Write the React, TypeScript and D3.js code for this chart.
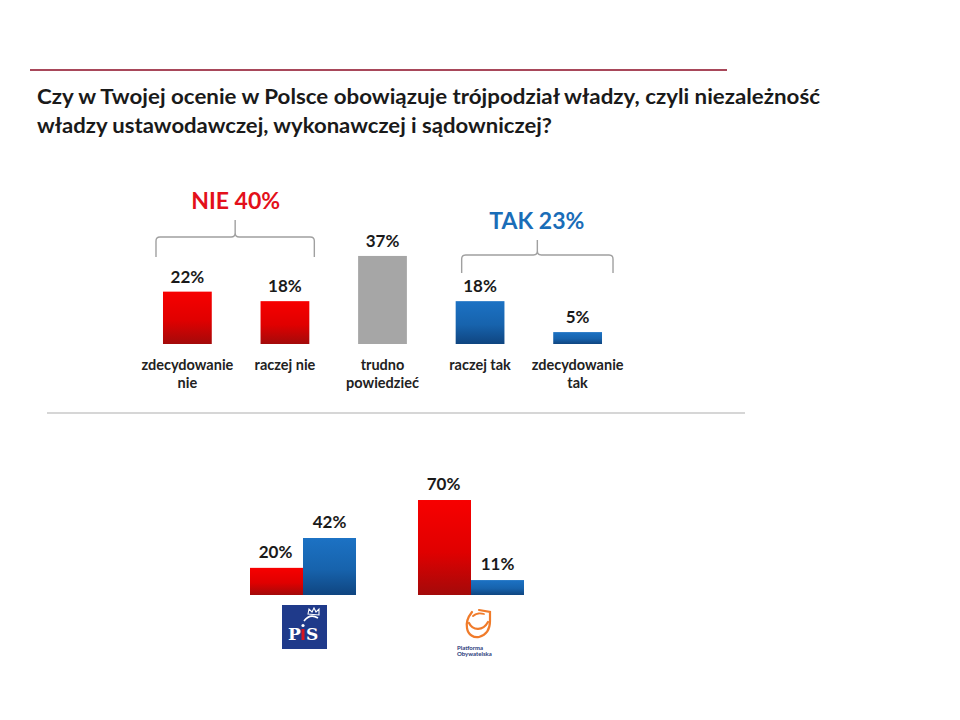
import React from "react";
import * as d3 from "d3";

const TITLE_LINES = [
  "Czy w Twojej ocenie w Polsce obowiązuje trójpodział władzy, czyli niezależność",
  "władzy ustawodawczej, wykonawczej i sądowniczej?",
];

const categories = ["zdecydowanie nie", "raczej nie", "trudno powiedzieć", "raczej tak", "zdecydowanie tak"];
const categoryLines = [["zdecydowanie", "nie"], ["raczej nie"], ["trudno", "powiedzieć"], ["raczej tak"], ["zdecydowanie", "tak"]];
const values = [22, 18, 37, 18, 5];
const groupsOf = ["nie", "nie", "neutral", "tak", "tak"];

const summaryLabels = ["NIE 40%", "TAK 23%"];

const parties = ["PiS", "PO"];
const seriesKeys = ["nie", "tak"];
const nieByParty = [20, 70];
const takByParty = [42, 11];

const RED = "#e3101a";
const BLUE = "#1a6db8";
const GRAY_BAR = "#a6a6a6";

function brace(x0: number, x1: number, tipY: number, midY: number, endY: number) {
  const xm = (x0 + x1) / 2;
  const r = 4;
  return [
    `M${x0},${endY}`,
    `L${x0},${midY + r}`,
    `Q${x0},${midY} ${x0 + r},${midY}`,
    `L${xm - r},${midY}`,
    `Q${xm},${midY} ${xm},${midY - r}`,
    `L${xm},${tipY}`,
    `M${xm},${midY - r}`,
    `Q${xm},${midY} ${xm + r},${midY}`,
    `L${x1 - r},${midY}`,
    `Q${x1},${midY} ${x1},${midY + r}`,
    `L${x1},${endY}`,
  ].join(" ");
}

export default function App() {
  const W = 960;
  const H = 720;
  const font = "Lato, 'Open Sans', 'DejaVu Sans', sans-serif";

  // top chart scales
  const x = d3.scaleBand<number>().domain(d3.range(categories.length)).range([138.6, 626.4]).paddingInner(0.5).paddingOuter(0.25);
  const base1 = 344;
  const y = d3.scaleLinear().domain([0, 100]).range([base1, base1 - 238]);

  // bottom chart scales
  const xg = d3.scaleBand<string>().domain(parties).range([250, 524]).paddingInner(0.369).paddingOuter(0);
  const xs = d3.scaleBand<string>().domain(seriesKeys).range([0, xg.bandwidth()]).padding(0);
  const base2 = 595;
  const y2 = d3.scaleLinear().domain([0, 100]).range([base2, base2 - 135.7]);

  const fillFor = (g: string) => (g === "nie" ? "url(#gradRed)" : g === "tak" ? "url(#gradBlue)" : GRAY_BAR);

  const xNie0 = x(0)!;
  const xNie1 = x(1)! + x.bandwidth();
  const xTak0 = x(3)!;
  const xTak1 = x(4)! + x.bandwidth();

  return (
    <svg width={W} height={H} style={{ display: "block", position: "absolute", left: 0, top: 0, background: "#fff" }} fontFamily={font}>
      <defs>
        <linearGradient id="gradRed" x1="0" y1="0" x2="0" y2="1">
          <stop offset="0" stopColor="#f70000" />
          <stop offset="0.55" stopColor="#e00000" />
          <stop offset="1" stopColor="#a30a0a" />
        </linearGradient>
        <linearGradient id="gradBlue" x1="0" y1="0" x2="0" y2="1">
          <stop offset="0" stopColor="#1c72c4" />
          <stop offset="0.55" stopColor="#1763ad" />
          <stop offset="1" stopColor="#0f4580" />
        </linearGradient>
      </defs>
      <rect x={0} y={0} width={W} height={H} fill="#fff" />

      {/* top rule */}
      <line x1={30} x2={727} y1={70} y2={70} stroke="#a8485a" strokeWidth={2} />

      {/* title */}
      {TITLE_LINES.map((t, i) => (
        <text key={i} x={37} y={104 + i * 29} fontSize={21} fontWeight={700} fill="#1a1a1a"
          textLength={i === 0 ? 783 : 515} lengthAdjust="spacingAndGlyphs">
          {t}
        </text>
      ))}

      {/* summary labels */}
      <text x={(xNie0 + xNie1) / 2 - 0.5} y={209} textAnchor="middle" fontSize={23} fontWeight={700} fill={RED}>{summaryLabels[0]}</text>
      <text x={(xTak0 + xTak1) / 2 + 8} y={229} textAnchor="middle" fontSize={23} fontWeight={700} fill={BLUE}>{summaryLabels[1]}</text>

      {/* braces */}
      <path d={brace(xNie0 - 7, xNie1 + 5, 220, 237, 257)} fill="none" stroke="#a0a0a0" strokeWidth={1.4} />
      <path d={brace(xTak0 + 6, xTak1 + 11, 240, 255, 273)} fill="none" stroke="#a0a0a0" strokeWidth={1.4} />

      {/* top bars */}
      {values.map((v, i) => {
        const bx = x(i)!;
        const cx = bx + x.bandwidth() / 2;
        return (
          <g key={categories[i]}>
            <rect x={bx} y={y(v)} width={x.bandwidth()} height={base1 - y(v)} fill={fillFor(groupsOf[i])} />
            <text x={cx} y={y(v) - 9} textAnchor="middle" fontSize={17} fontWeight={700} fill="#1a1a1a">{v}%</text>
            {categoryLines[i].map((ln, j) => (
              <text key={j} x={cx} y={370 + j * 18} textAnchor="middle" fontSize={14.5} fontWeight={700} fill="#222">{ln}</text>
            ))}
          </g>
        );
      })}

      {/* separator */}
      <line x1={47} x2={745} y1={413} y2={413} stroke="#c8c8c8" strokeWidth={1.5} />

      {/* bottom grouped bars */}
      {parties.map((p, pi) => {
        const gx = xg(p)!;
        const vals = [nieByParty[pi], takByParty[pi]];
        return (
          <g key={p}>
            {seriesKeys.map((k, ki) => {
              const v = vals[ki];
              const bx = gx + xs(k)!;
              return (
                <g key={k}>
                  <rect x={bx} y={y2(v)} width={xs.bandwidth()} height={base2 - y2(v)} fill={fillFor(k)} />
                  <text x={bx + xs.bandwidth() / 2 - (ki === 0 ? 1 : 0)} y={y2(v) - 10} textAnchor="middle" fontSize={17} fontWeight={700} fill="#1a1a1a">{v}%</text>
                </g>
              );
            })}
          </g>
        );
      })}

      {/* PiS logo */}
      <g transform={`translate(${xg("PiS")! + xg.bandwidth() / 2 - 21},605)`}>
        <rect x={0} y={0} width={45} height={44} fill="#1f3a8a" />
        <path d="M22,16 Q28,8 36,13" fill="none" stroke="#fff" strokeWidth={1.6} />
        <path d="M26,9 L27,4 L30,7 L32,3 L34,7 L37,4 L37,10 Z" fill="none" stroke="#fff" strokeWidth={1.1} />
        <text x={6} y={35} fontSize={17} fontWeight={700} fill="#fff" fontFamily="'DejaVu Serif', 'Liberation Serif', serif">P</text>
        <rect x={19.5} y={24} width={3} height={11} fill="#d8141e" />
        <circle cx={21} cy={20.5} r={1.6} fill="#fff" />
        <text x={24} y={35} fontSize={17} fontWeight={700} fill="#fff" fontFamily="'DejaVu Serif', 'Liberation Serif', serif">S</text>
      </g>

      {/* PO logo */}
      <g transform={`translate(${xg("PO")! + xg.bandwidth() / 2 - 18},609)`}>
        <path d="M19,3 C15,8 13,14 14,19 C15,26 21,29 26,28 C33,26 37,20 37,12 L37,3 L26,1" fill="none" stroke="#f07b2a" strokeWidth={2.2} strokeLinecap="round" />
        <path d="M20,7 C23,4 28,4 31,5" fill="none" stroke="#f07b2a" strokeWidth={1.8} strokeLinecap="round" />
        <path d="M16,14 C20,22 30,22 35,13" fill="none" stroke="#f07b2a" strokeWidth={2.2} strokeLinecap="round" />
        <text x={4} y={41} fontSize={6} fontWeight={700} fill="#2a3a7a">Platforma</text>
        <text x={4} y={47} fontSize={6} fontWeight={700} fill="#2a3a7a">Obywatelska</text>
      </g>
    </svg>
  );
}
